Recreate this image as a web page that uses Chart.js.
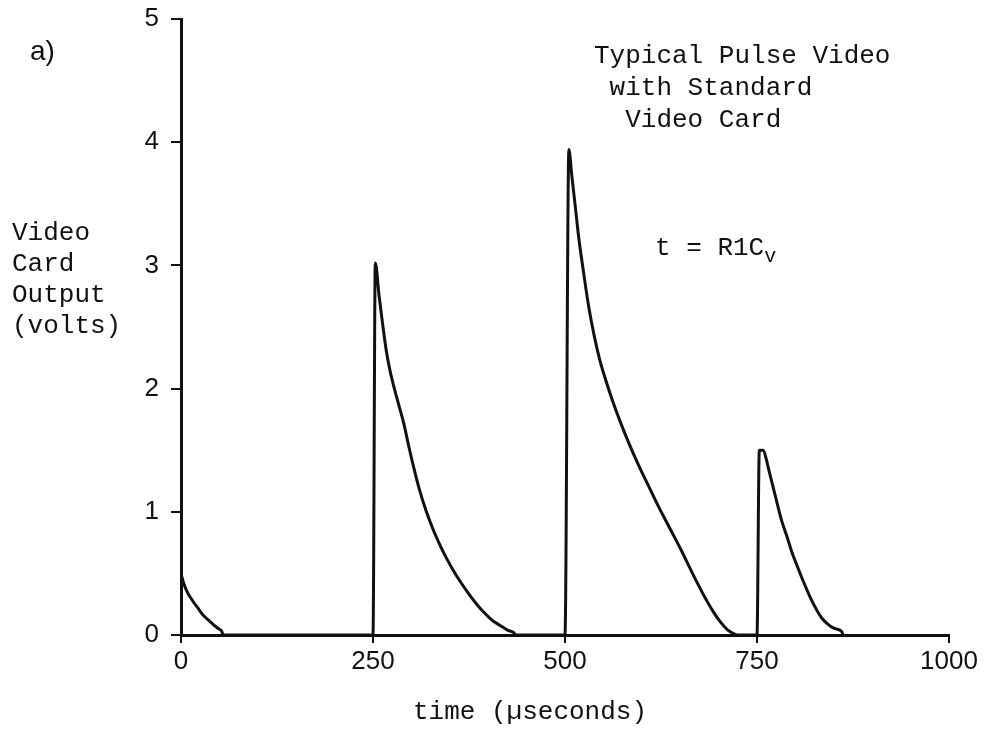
<!DOCTYPE html>
<html>
<head>
<meta charset="utf-8">
<title>Typical Pulse Video</title>
<script src="https://cdn.jsdelivr.net/npm/chart.js"></script>
<style>
  html, body { margin: 0; padding: 0; background: #fff; }
  #wrap { width: 998px; height: 735px; }
</style>
</head>
<body>
<div id="wrap"><canvas id="pulse" width="998" height="735"></canvas></div>
<script>
// trace: time (µs) and video card output (volts)
const timeUs = [
  0, 3, 8, 16, 23, 29, 36, 42, 48, 53, 55,
  250, 253, 258, 262, 267, 272, 277, 283, 290, 297, 303, 310, 319, 328, 338, 346, 355, 364, 374, 385, 395, 405, 415, 425, 433, 436,
  500, 505, 509, 513, 518, 524, 531, 538, 545, 553, 562, 572, 583, 595, 608, 622, 637, 652, 666, 680, 693, 703, 712, 720, 724,
  750, 753, 758, 762, 765, 771, 777, 782, 789, 795, 803, 810, 819, 828, 834, 841, 850, 860, 862
];
const volts = [
  0.5, 0.43, 0.35, 0.27, 0.21, 0.16, 0.12, 0.085, 0.055, 0.03, 0,
  0, 3.02, 2.75, 2.55, 2.32, 2.15, 2.02, 1.88, 1.72, 1.52, 1.36, 1.19, 1.01, 0.86, 0.72, 0.62, 0.52, 0.43, 0.34, 0.25, 0.18, 0.12, 0.08, 0.04, 0.02, 0,
  0, 3.94, 3.72, 3.5, 3.22, 2.95, 2.66, 2.43, 2.24, 2.07, 1.9, 1.73, 1.56, 1.39, 1.22, 1.04, 0.86, 0.68, 0.5, 0.33, 0.19, 0.1, 0.04, 0.01, 0,
  0, 1.5, 1.5, 1.43, 1.35, 1.2, 1.05, 0.93, 0.8, 0.68, 0.55, 0.44, 0.31, 0.2, 0.14, 0.095, 0.055, 0.03, 0
];
const xTicks = [0, 250, 500, 750, 1000];
const yTicks = [0, 1, 2, 3, 4, 5];

const titleLines = ['Typical Pulse Video', ' with Standard', '  Video Card'];
const yTitleLines = ['Video', 'Card', 'Output', '(volts)'];
const xTitle = 'time (\u00b5seconds)';

const mono = '"Liberation Mono", "DejaVu Sans Mono", monospace';
const hand = '"Liberation Sans", "DejaVu Sans", sans-serif';

// free text around the plot (panel letter, caption, axis titles)
const notes = {
  id: 'notes',
  afterDraw(chart) {
    const ctx = chart.ctx;
    ctx.save();
    ctx.fillStyle = '#111';
    ctx.textBaseline = 'middle';
    ctx.textAlign = 'left';

    ctx.font = '28px ' + hand;
    ctx.fillText('a)', 30, 52);

    ctx.font = '26px ' + mono;
    titleLines.forEach((t, i) => ctx.fillText(t, 594, 56 + i * 32));
    yTitleLines.forEach((t, i) => ctx.fillText(t, 12, 233 + i * 31));

    ctx.fillText('t = R1C', 655, 248);
    const w = ctx.measureText('t = R1C').width;
    ctx.font = '20px ' + mono;
    ctx.fillText('v', 655 + w, 257);

    ctx.font = '26px ' + mono;
    ctx.textAlign = 'center';
    ctx.fillText(xTitle, 530, 712);
    ctx.restore();
  }
};

new Chart(document.getElementById('pulse'), {
  type: 'scatter',
  data: {
    datasets: [{
      data: timeUs.map((t, i) => ({ x: t, y: volts[i] })),
      showLine: true,
      borderColor: '#111',
      borderWidth: 3,
      pointRadius: 0,
      cubicInterpolationMode: 'monotone'
    }]
  },
  options: {
    responsive: false,
    animation: false,
    layout: { padding: { top: 19, right: 49, left: 0, bottom: 0 } },
    plugins: { legend: { display: false }, tooltip: { enabled: false } },
    scales: {
      x: {
        type: 'linear',
        min: 0,
        max: 1000,
        afterFit: s => { s.height = 100; },
        afterBuildTicks: s => { s.ticks = xTicks.map(v => ({ value: v })); },
        ticks: { color: '#111', font: { family: hand, size: 26 }, padding: 3, maxRotation: 0, callback: v => String(v) },
        grid: { drawOnChartArea: false, drawTicks: true, tickLength: 8, color: '#111', lineWidth: 2 },
        border: { display: true, color: '#111', width: 3 }
      },
      y: {
        min: 0,
        max: 5,
        // keep the top tick on the plot edge, no extra room for its label
        afterFit: s => { s.width = 181; s.paddingTop = 0; s.paddingBottom = 0; },
        afterBuildTicks: s => { s.ticks = yTicks.map(v => ({ value: v })); },
        ticks: { color: '#111', font: { family: hand, size: 26 }, padding: 12, callback: v => String(v) },
        grid: { drawOnChartArea: false, drawTicks: true, tickLength: 10, color: '#111', lineWidth: 2 },
        border: { display: true, color: '#111', width: 3 }
      }
    }
  },
  plugins: [notes]
});
</script>
</body>
</html>
